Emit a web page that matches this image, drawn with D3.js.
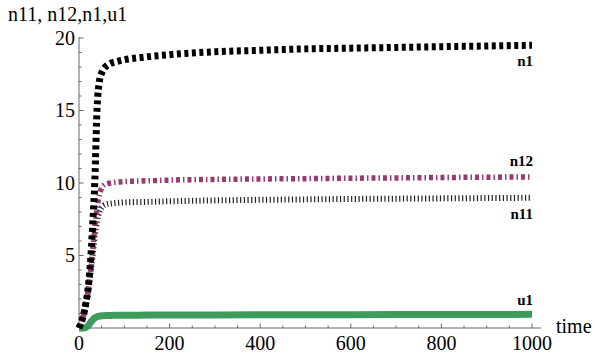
<!DOCTYPE html>
<html>
<head>
<meta charset="utf-8">
<script src="https://cdn.jsdelivr.net/npm/d3@7"></script>
</head>
<body style="margin:0">
<script>
// Sampled time points and the four state variables
const time = [0, 5, 10, 15, 20, 25, 30, 35, 40, 45, 50, 55, 60, 70, 80, 100, 150, 200, 300, 400, 500, 600, 700, 800, 900, 1000];
const n1   = [0, 0.4, 0.9, 1.7, 2.7, 4.4, 7.0, 10.2, 15.2, 17.0, 17.6, 17.9, 18.05, 18.25, 18.35, 18.5, 18.7, 18.85, 19.05, 19.15, 19.25, 19.3, 19.35, 19.4, 19.45, 19.5];
const n12  = [0, 0.4, 0.9, 1.6, 2.5, 3.8, 5.3, 7.0, 8.3, 9.2, 9.65, 9.85, 9.93, 10.0, 10.05, 10.1, 10.15, 10.2, 10.25, 10.28, 10.3, 10.33, 10.35, 10.38, 10.4, 10.42];
const n11  = [0, 0.4, 0.9, 1.6, 2.5, 3.7, 5.0, 6.4, 7.4, 8.0, 8.3, 8.45, 8.52, 8.58, 8.62, 8.66, 8.7, 8.74, 8.8, 8.84, 8.87, 8.9, 8.92, 8.94, 8.96, 8.98];
const u1   = [0, 0, 0, 0.03, 0.15, 0.35, 0.55, 0.7, 0.78, 0.82, 0.84, 0.85, 0.86, 0.87, 0.875, 0.88, 0.89, 0.9, 0.905, 0.91, 0.915, 0.92, 0.925, 0.93, 0.935, 0.94];

const xTicks = [0, 200, 400, 600, 800, 1000];
const yTicks = [5, 10, 15, 20];
const seriesNames = ["u1", "n11", "n12", "n1"];
const seriesValues = [u1, n11, n12, n1];

const W = 595, H = 353;
const FONT = "Liberation Serif, Tinos, serif";
const x = d3.scaleLinear().domain([0, 1000]).range([79, 532]);
const y = d3.scaleLinear().domain([0, 20]).range([328, 38]);

const svg = d3.select("body").append("svg")
  .attr("width", W).attr("height", H);

const axisColor = "#666";

// Horizontal axis through the origin, ticks pointing inward
svg.append("line").attr("x1", x(0)).attr("x2", 541).attr("y1", y(0)).attr("y2", y(0)).attr("stroke", axisColor);
const minorX = d3.range(50, 1001, 50).filter(v => v % 200 !== 0);
svg.selectAll(".mx").data(minorX).join("line").attr("class", "mx")
  .attr("x1", d => x(d)).attr("x2", d => x(d)).attr("y1", y(0)).attr("y2", y(0) - 2.5)
  .attr("stroke", axisColor);
svg.selectAll(".Mx").data(xTicks.filter(d => d > 0)).join("line").attr("class", "Mx")
  .attr("x1", d => x(d)).attr("x2", d => x(d)).attr("y1", y(0)).attr("y2", y(0) - 4.5)
  .attr("stroke", axisColor);
svg.selectAll(".xl").data(xTicks).join("text").attr("class", "xl")
  .attr("x", d => x(d)).attr("y", y(0) + 22)
  .attr("text-anchor", "middle")
  .attr("font-family", FONT).attr("font-size", 20)
  .text(d => d);

// Vertical axis
svg.append("line").attr("x1", x(0)).attr("x2", x(0)).attr("y1", y(0)).attr("y2", y(20) - 1).attr("stroke", axisColor);
const minorY = d3.range(1, 21).filter(v => v % 5 !== 0);
svg.selectAll(".my").data(minorY).join("line").attr("class", "my")
  .attr("x1", x(0)).attr("x2", x(0) + 2.5).attr("y1", d => y(d)).attr("y2", d => y(d))
  .attr("stroke", axisColor);
svg.selectAll(".My").data(yTicks).join("line").attr("class", "My")
  .attr("x1", x(0)).attr("x2", x(0) + 4.5).attr("y1", d => y(d)).attr("y2", d => y(d))
  .attr("stroke", axisColor);
svg.selectAll(".yl").data(yTicks).join("text").attr("class", "yl")
  .attr("x", x(0) - 4).attr("y", d => y(d) + 6.5)
  .attr("text-anchor", "end")
  .attr("font-family", FONT).attr("font-size", 20)
  .text(d => d);

// Axis titles
svg.append("text")
  .attr("x", 8).attr("y", 21)
  .attr("font-family", FONT).attr("font-size", 20)
  .text("n11, n12,n1,u1");
svg.append("text")
  .attr("x", 556).attr("y", 333)
  .attr("font-family", FONT).attr("font-size", 20)
  .text("time");

// Curves
const styles = {
  u1:  { color: "#3f9b5c", width: 7,   dash: null },
  n11: { color: "#222",    width: 6,   dash: "1.2 2.5" },
  n12: { color: "#993a6e", width: 5.5, dash: "4 3 1.5 3" },
  n1:  { color: "#000",    width: 7,   dash: "4 3.5" }
};
const line = d3.line()
  .x((d, i) => x(time[i]))
  .y(d => y(d))
  .curve(d3.curveMonotoneX);

seriesNames.forEach((name, k) => {
  const s = styles[name];
  svg.append("path")
    .datum(seriesValues[k])
    .attr("fill", "none")
    .attr("stroke", s.color)
    .attr("stroke-width", s.width)
    .attr("stroke-dasharray", s.dash)
    .attr("stroke-linecap", "butt")
    .attr("d", line);
});

// End labels
const labelOffset = { n1: 21, n12: -11, n11: 21, u1: -9 };
seriesNames.forEach((name, k) => {
  const v = seriesValues[k][seriesValues[k].length - 1];
  svg.append("text")
    .attr("x", 533).attr("y", y(v) + labelOffset[name])
    .attr("text-anchor", "end")
    .attr("font-family", FONT).attr("font-size", 15).attr("font-weight", "bold")
    .text(name);
});
</script>
</body>
</html>
